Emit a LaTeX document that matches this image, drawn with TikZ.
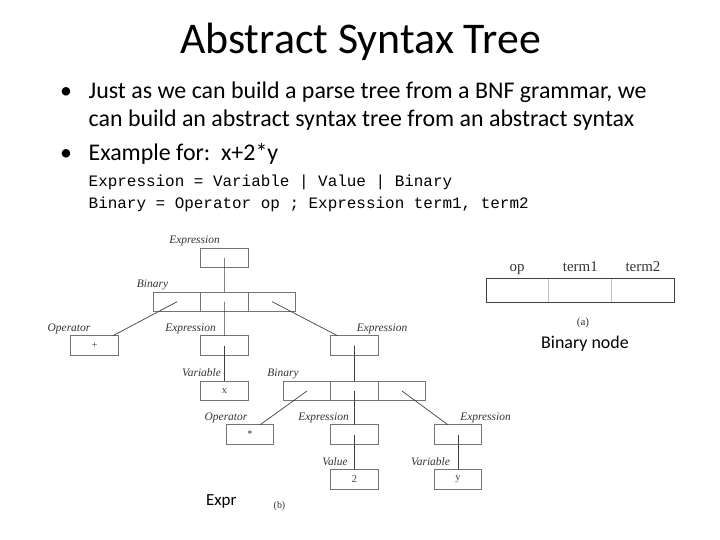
\documentclass[tikz,border=0pt]{standalone}
\usepackage{fontspec}
\setmainfont{Carlito}
\newfontfamily\codefont{Liberation Mono}
\newfontfamily\figfont{Liberation Serif}
\usetikzlibrary{positioning}

\begin{document}
\begin{tikzpicture}[x=1bp,y=-1bp,
    box/.style={draw=black!55, line width=0.8bp, minimum width=47.5bp, minimum height=19.4bp,
      inner sep=0pt, outer sep=0pt, font=\figfont\fontsize{10.5}{10.5}\selectfont, text=black!75},
    lbl/.style={inner sep=0pt, text height=8bp, text depth=2.5bp,
      font=\figfont\itshape\fontsize{11.5}{11.5}\selectfont, text=black!80},
    ptr/.style={draw=black!75, line width=0.7bp},
    txt/.style={inner sep=0pt, anchor=base west, font=\fontsize{24}{24}\selectfont},
    code/.style={inner sep=0pt, anchor=base west, font=\codefont\fontsize{16}{16}\selectfont},
    acell/.style={draw=black!25, line width=0.8bp, minimum width=62.7bp, minimum height=24bp,
      inner sep=0pt, outer sep=0pt}]
\useasboundingbox (0,0) rectangle (720,540);

% heading and bullets
\node[inner sep=0pt, anchor=base, font=\fontsize{44}{44}\selectfont] (title) at (360.5,54) {Abstract Syntax Tree};
\node[txt, anchor=base] (dot1) at (66,99) {•};
\node[txt] (t1) at (88.5,99) {Just as we can build a parse tree from a BNF grammar, we};
\node[txt] (t2) at (88.5,127) {can build an abstract syntax tree from an abstract syntax};
\node[txt, anchor=base] (dot2) at (66,161) {•};
\node[txt] (t3) at (88.5,161) {Example for:\ \ x+2*y};
\node[code] (c1) at (88.5,186.5) {Expression = Variable | Value | Binary};
\node[code] (c2) at (88.5,209) {Binary = Operator op ; Expression term1, term2};

% tree (b)
\node[box] (1) at (224.6,258) {};
\node[box] (2) at (177.1,301.7) {};
\node[box, right=0pt of 2] (3) {};
\node[box, right=0pt of 3] (4) {};
\node[box] (5) at (94.5,345.5) {+};
\node[box] (6) at (224.6,345.5) {};
\node[box] (7) at (354.5,345.5) {};
\node[box] (8) at (224.6,391) {x};
\node[box] (9) at (307,391) {};
\node[box, right=0pt of 9] (10) {};
\node[box, right=0pt of 10] (11) {};
\node[box] (12) at (250,434.5) {*};
\node[box] (13) at (354.5,434.5) {};
\node[box] (14) at (458,434.5) {};
\node[box] (15) at (354.5,479.5) {2};
\node[box] (16) at (458,479.5) {y};

\node[lbl] (l1) at (194.5,241) {Expression};
\node[lbl] (l2) at (152.5,285) {Binary};
\node[lbl] (l5) at (69,329) {Operator};
\node[lbl] (l6) at (190.5,329) {Expression};
\node[lbl] (l7) at (382,329) {Expression};
\node[lbl] (l8) at (201.5,374) {Variable};
\node[lbl] (l9) at (283,374) {Binary};
\node[lbl] (l12) at (226,418) {Operator};
\node[lbl] (l13) at (323.5,418) {Expression};
\node[lbl] (l14) at (485.5,418) {Expression};
\node[lbl] (l15) at (335,463) {Value};
\node[lbl] (l16) at (430.5,463) {Variable};

\path[ptr]
    (1.center) edge (3.north)
    (2.center) edge (5.28)
    (3.center) edge (6.north)
    (4.center) edge (7.150)
    (6.center) edge (8.north)
    (7.center) edge (10.north)
    (9.center) edge (12.44)
    (10.center) edge (13.north)
    (11.center) edge (14.136)
    (13.center) edge (15.north)
    (14.center) edge (16.north);

\node[font=\fontsize{17}{17}\selectfont, inner sep=0pt] (expr) at (221.3,501) {Expr};
\node[font=\figfont\fontsize{10}{10}\selectfont, inner sep=0pt, text=black!80] (capb) at (279.5,505.7) {(b)};

% binary node (a)
\node[acell] (a1) at (517.4,290) {};
\node[acell, right=0pt of a1] (a2) {};
\node[acell, right=0pt of a2] (a3) {};
\draw[black!75, line width=0.8bp] (a1.north west) rectangle (a3.south east);
\node[font=\figfont\fontsize{15}{15}\selectfont, inner sep=0pt, anchor=base, text=black!80] (op) at (517,271.5) {op};
\node[font=\figfont\fontsize{15}{15}\selectfont, inner sep=0pt, anchor=base, text=black!80] (tm1) at (580.3,271.5) {term1};
\node[font=\figfont\fontsize{15}{15}\selectfont, inner sep=0pt, anchor=base, text=black!80] (tm2) at (643,271.5) {term2};
\node[font=\figfont\fontsize{11}{11}\selectfont, inner sep=0pt, text=black!80] (capa) at (583,323) {(a)};
\node[font=\fontsize{18}{18}\selectfont, inner sep=0pt] (bn) at (585,344) {Binary node};

\end{tikzpicture}
\end{document}
